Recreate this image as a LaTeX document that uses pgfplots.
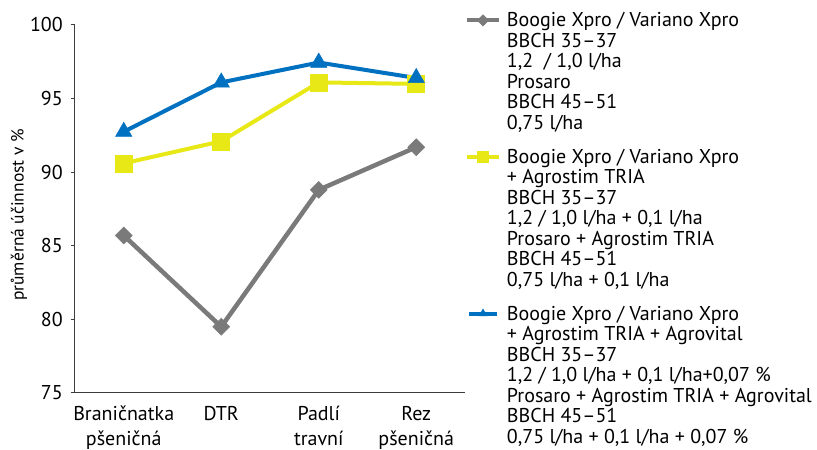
\documentclass[border=0pt]{standalone}
\usepackage{fontspec}
\setmainfont{PT Sans}
\usepackage{pgfplots}
\pgfplotsset{compat=1.18}
\definecolor{cgray}{RGB}{122,122,122}
\definecolor{cyel}{RGB}{232,232,22}
\definecolor{cblue}{RGB}{0,112,192}
\definecolor{caxis}{RGB}{60,60,60}
\newcommand\lgt[1]{{\fontsize{20}{20.5}\selectfont\begin{tabular}[b]{@{}l@{}}#1\end{tabular}}}
\begin{document}
\begin{tikzpicture}
\begin{axis}[
  scale only axis, width=390pt, height=368pt,
  xmin=0, xmax=4, ymin=75, ymax=100,
  axis lines*=left,
  axis line style={caxis, line width=1pt},
  every tick/.style={caxis, line width=1pt},
  tick align=outside,
  xtick={0.5,1.5,2.5,3.5},
  xticklabels={{Braničnatka\\pšeničná},{DTR},{Padlí\\travní},{Rez\\pšeničná}},
  x tick style={draw=none},
  extra x ticks={0,1,2,3,4},
  extra x tick labels={},
  extra x tick style={major tick length=5pt, tick style={caxis, line width=1pt}},
  ytick={75,80,85,90,95,100},
  major tick length=4pt,
  /pgf/number format/assume math mode=true,
  xticklabel style={align=center, inner sep=0pt, font=\fontsize{20}{25}\selectfont, yshift=-9pt},
  yticklabel style={inner sep=0pt, font=\fontsize{20}{21}\selectfont, xshift=-8pt},
  ylabel={průměrná účinnost v \%},
  ylabel style={at={(axis description cs:-0.144,0.484)}, anchor=center, font=\fontsize{17.5}{20}\selectfont, inner sep=0pt},
  legend style={draw=none, fill=none, inner sep=0pt, outer sep=0pt,
    at={(axis description cs:1,1)}, anchor=north west, yshift=12.5pt,
    column sep=6pt, row sep=18pt,
    nodes={inner sep=0pt, outer sep=0pt},
    cells={anchor=base west}},
]
\addplot[cgray, line width=4.5pt, mark=square*, mark size=6pt, mark options={rotate=45, line width=0.5pt},
  legend image code/.code={\draw[line width=4pt, mark size=4pt, mark indices={2}] plot coordinates {(0pt,109pt) (16pt,109pt) (32pt,109pt)};}]
  coordinates {(0.5,85.7) (1.5,79.5) (2.5,88.8) (3.5,91.7)};
\addlegendentry{\lgt{Boogie Xpro / Variano Xpro\\BBCH 35–37\\1,2 \ / 1,0 l/ha\\Prosaro\\BBCH 45–51\\0,75 l/ha}}
\addplot[cyel, line width=4pt, mark=square*, mark size=8.5pt, mark options={line width=0.5pt},
  legend image code/.code={\draw[line width=4pt, mark size=5.5pt, mark indices={2}] plot coordinates {(0pt,129.5pt) (16pt,129.5pt) (32pt,129.5pt)};}]
  coordinates {(0.5,90.6) (1.5,92.1) (2.5,96.1) (3.5,96.0)};
\addlegendentry{\lgt{Boogie Xpro / Variano Xpro\\+ Agrostim TRIA\\BBCH 35–37\\1,2 / 1,0 l/ha + 0,1 l/ha\\Prosaro + Agrostim TRIA\\BBCH 45–51\\0,75 l/ha + 0,1 l/ha}}
\addplot[cblue, line width=4pt, mark=triangle*, mark size=9.5pt, mark options={line width=0.5pt},
  legend image code/.code={\draw[line width=4pt, mark size=4.5pt, mark indices={2}] plot coordinates {(2pt,129.5pt) (16pt,129.5pt) (30pt,129.5pt)};}]
  coordinates {(0.5,92.75) (1.5,96.1) (2.5,97.45) (3.5,96.4)};
\addlegendentry{\lgt{Boogie Xpro / Variano Xpro\\+ Agrostim TRIA + Agrovital\\BBCH 35–37\\1,2 / 1,0 l/ha + 0,1 l/ha+0,07 \%\\Prosaro + Agrostim TRIA + Agrovital\\BBCH 45–51\\0,75 l/ha + 0,1 l/ha + 0,07 \%}}
\end{axis}
\path[use as bounding box] ([shift={(-75pt,-56pt)}]current axis.south west) rectangle ++(817pt,449pt);
\end{tikzpicture}
\end{document}
